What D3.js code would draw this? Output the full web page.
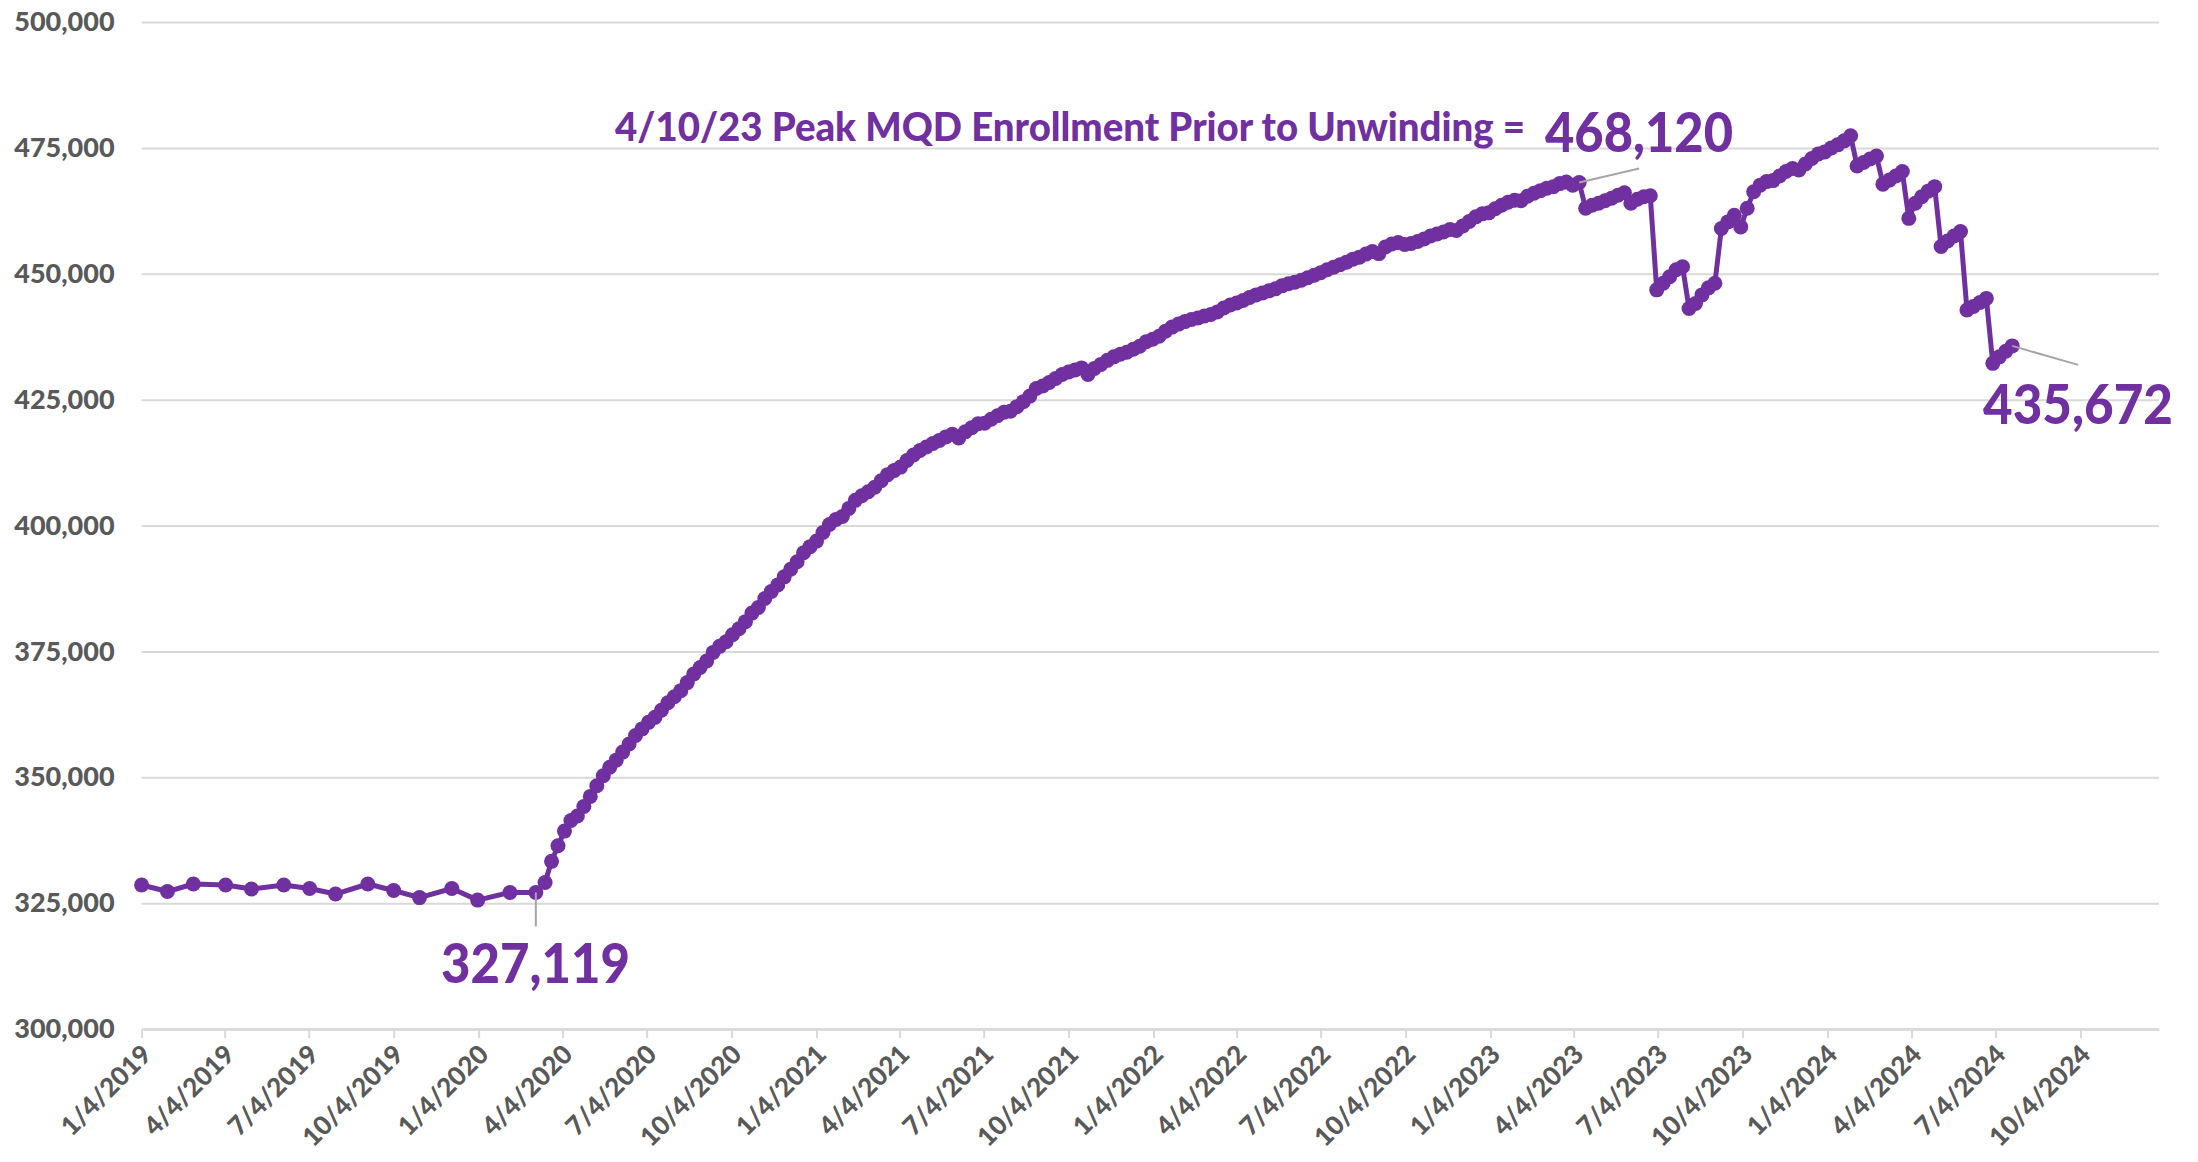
<!DOCTYPE html>
<html>
<head>
<meta charset="utf-8">
<script src="https://cdn.jsdelivr.net/npm/d3@7"></script>
<style>
  html, body { margin: 0; padding: 0; background: #ffffff; }
  svg { display: block; }
</style>
</head>
<body>
<svg id="chart" width="2198" height="1162"></svg>
<script>
// ---------------- DATA ----------------
const monthlyDates = ["2019-01-04","2019-02-01","2019-03-01","2019-04-05","2019-05-03","2019-06-07","2019-07-05","2019-08-02","2019-09-06","2019-10-04","2019-11-01","2019-12-06","2020-01-03","2020-02-07","2020-03-06"];
const monthlyValues = [328600,327300,328800,328600,327800,328600,327900,326800,328800,327500,326100,327900,325600,327100,327119];

const weeklyStart = "2020-03-16"; // weekly (Monday) reports from here on
const weeklyValues = [
  329100,333300,336400,339300,341400,342300,344200,346200,348300,350300,
  352000,353400,355000,356600,358300,359600,360900,361900,363300,364800,
  366000,367200,368800,370500,371800,373100,374800,376000,376900,378300,
  379500,380900,382600,383700,385500,386900,388200,389800,391300,392800,
  394600,395800,396900,398600,400200,401200,401800,403400,405000,405900,
  406700,407600,408900,410100,410900,411600,412900,414000,414900,415600,
  416300,416900,417600,418100,417400,418600,419400,420200,420300,421100,
  421800,422500,422700,423600,424600,425700,427200,427700,428400,429200,
  430000,430500,430900,431300,430000,431200,432000,432800,433500,434000,
  434400,435000,435600,436500,437000,437600,438600,439400,440000,440500,
  440900,441200,441600,441900,442400,443200,443800,444200,444700,445300,
  445800,446200,446600,447000,447600,448000,448300,448700,449200,449700,
  450200,450800,451300,451800,452300,452900,453300,453900,454400,454000,
  455300,455900,456200,455800,456000,456400,456900,457500,457900,458300,
  458800,458600,459500,460400,461300,461900,462100,462900,463600,464200,
  464600,464500,465400,466000,466500,467000,467300,467900,468200,467600,
  468120,463000,463600,464000,464500,465000,465600,466100,464000,464800,
  465300,465500,446800,448100,449400,450800,451400,443100,444100,445800,
  447200,448100,459000,460300,461600,459300,463000,466300,467600,468300,
  468500,469400,470300,470900,470600,471800,472900,473800,474200,475000,
  475600,476400,477400,471400,472100,472800,473400,467800,468600,469400,
  470300,461000,464000,465300,466400,467300,455400,456500,457500,458400,
  442800,443500,444300,445100,432200,433500,434600,435672
];

const xTickLabels = ["1/4/2019","4/4/2019","7/4/2019","10/4/2019","1/4/2020","4/4/2020","7/4/2020","10/4/2020",
  "1/4/2021","4/4/2021","7/4/2021","10/4/2021","1/4/2022","4/4/2022","7/4/2022","10/4/2022",
  "1/4/2023","4/4/2023","7/4/2023","10/4/2023","1/4/2024","4/4/2024","7/4/2024","10/4/2024"];
const yTicks = [300000,325000,350000,375000,400000,425000,450000,475000,500000];
const xDomain = ["2019-01-04","2024-12-28"];

const peakText = "4/10/23 Peak MQD Enrollment Prior to Unwinding =";
const peakDate = "2023-04-10";
const startLabelDate = "2020-03-06";

// ---------------- BUILD ----------------
(function () {
const parseISO = d3.utcParse("%Y-%m-%d");
const parseMDY = d3.utcParse("%m/%d/%Y");
const fmtMDY = d3.utcFormat("%-m/%-d/%Y");

const series = monthlyDates.map((d, i) => ({ date: parseISO(d), value: monthlyValues[i] }));
const ws = parseISO(weeklyStart);
weeklyValues.forEach((v, i) => series.push({ date: d3.utcDay.offset(ws, 7 * i), value: v }));

const purple = "#7030A0";
const grey = "#595959";
const gridCol = "#d9d9d9";
const fontFam = "Lato, 'Open Sans', 'DejaVu Sans', sans-serif";

const pLeft = 141.6, pRight = 2159, pTop = 22, pBottom = 1029;

const x = d3.scaleUtc().domain(xDomain.map(parseISO)).range([pLeft, pRight]);
const y = d3.scaleLinear().domain([300000, 500000]).range([pBottom, pTop]);

const svg = d3.select("#chart");
svg.append("rect").attr("width", 2198).attr("height", 1162).attr("fill", "#fff");

// Y grid + labels
const yAxis = svg.append("g")
  .attr("transform", `translate(${pLeft},0)`)
  .call(d3.axisLeft(y).tickValues(yTicks).tickFormat(d3.format(",")).tickSize(-(pRight - pLeft)).tickPadding(27));
yAxis.select(".domain").remove();
yAxis.selectAll(".tick line").attr("stroke", gridCol).attr("stroke-width", 2);
yAxis.selectAll(".tick text")
  .attr("fill", grey).attr("font-family", fontFam).attr("font-weight", 900).attr("font-size", 27);

// X axis
const tickDates = xTickLabels.map(parseMDY);
const xAxis = svg.append("g")
  .attr("transform", `translate(0,${pBottom})`)
  .call(d3.axisBottom(x).tickValues(tickDates).tickFormat(fmtMDY).tickSize(9).tickSizeOuter(0));
xAxis.select(".domain").attr("stroke", gridCol).attr("stroke-width", 2.5);
xAxis.selectAll(".tick line").attr("stroke", gridCol).attr("stroke-width", 2);
xAxis.selectAll(".tick text")
  .attr("fill", grey).attr("font-family", fontFam).attr("font-weight", 900).attr("font-size", 26)
  .attr("text-anchor", "end")
  .attr("dy", null)
  .attr("y", 0)
  .attr("transform", "translate(11,27) rotate(-45)");

// Series line + markers
const line = d3.line().x(d => x(d.date)).y(d => y(d.value));
svg.append("path").datum(series)
  .attr("d", line).attr("fill", "none")
  .attr("stroke", purple).attr("stroke-width", 5)
  .attr("stroke-linejoin", "round").attr("stroke-linecap", "round");
svg.append("g").selectAll("circle").data(series).join("circle")
  .attr("cx", d => x(d.date)).attr("cy", d => y(d.value)).attr("r", 7.5)
  .attr("fill", purple);

// Annotations
const leader = "#a6a6a6";
const sPt = series.find(d => +d.date === +parseISO(startLabelDate));
const pPt = series.find(d => +d.date === +parseISO(peakDate));
const lPt = series[series.length - 1];

svg.append("line").attr("x1", x(sPt.date)).attr("y1", y(sPt.value))
  .attr("x2", x(sPt.date)).attr("y2", y(sPt.value) + 34)
  .attr("stroke", leader).attr("stroke-width", 2);
svg.append("line").attr("x1", x(pPt.date)).attr("y1", y(pPt.value))
  .attr("x2", x(pPt.date) + 60).attr("y2", y(pPt.value) - 14)
  .attr("stroke", leader).attr("stroke-width", 2);
svg.append("line").attr("x1", x(lPt.date)).attr("y1", y(lPt.value))
  .attr("x2", x(lPt.date) + 66).attr("y2", y(lPt.value) + 19)
  .attr("stroke", leader).attr("stroke-width", 2);

const fmtNum = d3.format(",");
function bigLabel(txt, xPos, yPos, len) {
  svg.append("text").attr("x", xPos).attr("y", yPos)
    .attr("fill", purple).attr("font-family", fontFam).attr("font-weight", 900)
    .attr("font-size", 55).attr("textLength", len).attr("lengthAdjust", "spacingAndGlyphs")
    .text(txt);
}
bigLabel(fmtNum(sPt.value), 441, 983, 189);
bigLabel(fmtNum(pPt.value), 1545, 152, 188);
bigLabel(fmtNum(lPt.value), 1983, 424, 190);

svg.append("text").attr("x", 615).attr("y", 141)
  .attr("fill", purple).attr("font-family", fontFam).attr("font-weight", 900)
  .attr("font-size", 39).attr("textLength", 910).attr("lengthAdjust", "spacingAndGlyphs")
  .text(peakText);
})();
</script>
</body>
</html>
